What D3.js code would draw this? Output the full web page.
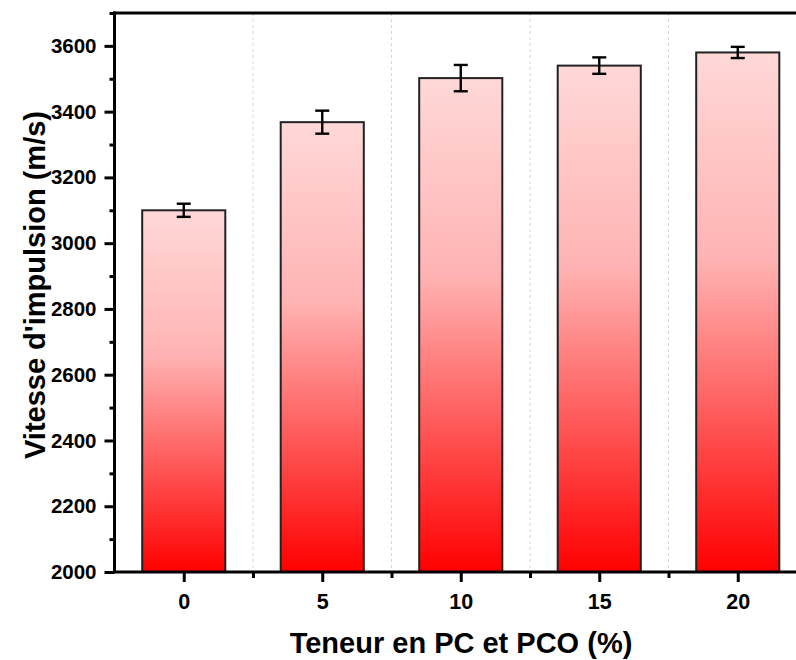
<!DOCTYPE html>
<html>
<head>
<meta charset="utf-8">
<script src="https://cdn.jsdelivr.net/npm/d3@7"></script>
<style>
  html, body { margin: 0; padding: 0; background: #fff; }
  svg { display: block; }
  text { font-family: "Liberation Sans", Arial, sans-serif; font-weight: bold; fill: #000; }
</style>
</head>
<body>
<div class="canvas"></div>
<script>
// data
const contents = [0, 5, 10, 15, 20];
const vitesse = [3100, 3368, 3502, 3540, 3580];
const errors = [20, 35, 40, 25, 17];
const yTicks = [2000, 2200, 2400, 2600, 2800, 3000, 3200, 3400, 3600];
const yMinorTicks = [2100, 2300, 2500, 2700, 2900, 3100, 3300, 3500, 3700];
const xMinorTicks = [2.5, 7.5, 12.5, 17.5];

const dims = {width: 796, height: 660};
const plot = {left: 114.5, right: 807, top: 13, bottom: 572};

const svg = d3.select(".canvas")
    .append("svg")
    .attr("width", dims.width)
    .attr("height", dims.height);

const x = d3.scaleLinear().domain([-2.5, 22.5]).range([plot.left, plot.right]);
const y = d3.scaleLinear().domain([2000, 3700]).range([plot.bottom, plot.top]);
const barW = x(3) - x(0);

// gradient: pale pink at the top of each bar, red at its base
const grad = svg.append("defs").append("linearGradient")
    .attr("id", "barGrad")
    .attr("x1", 0).attr("y1", 0).attr("x2", 0).attr("y2", 1);
grad.append("stop").attr("offset", "0%").attr("stop-color", "#ffd8d8");
grad.append("stop").attr("offset", "40%").attr("stop-color", "#ffb3b3");
grad.append("stop").attr("offset", "100%").attr("stop-color", "#ff0000");

// dashed vertical grid
svg.append("g").selectAll("line")
    .data(xMinorTicks)
    .join("line")
    .attr("x1", d => x(d)).attr("x2", d => x(d))
    .attr("y1", plot.top).attr("y2", plot.bottom)
    .attr("stroke", "#d8d8d8")
    .attr("stroke-width", 1)
    .attr("stroke-dasharray", "3,3");

// bars
const data = contents.map((c, i) => ({c, v: vitesse[i], e: errors[i]}));
svg.append("g").selectAll("rect")
    .data(data)
    .join("rect")
    .attr("x", d => x(d.c) - barW / 2)
    .attr("y", d => y(d.v))
    .attr("width", barW)
    .attr("height", d => y(2000) - y(d.v))
    .attr("fill", "url(#barGrad)")
    .attr("stroke", "#222")
    .attr("stroke-width", 2);

// error bars
const eb = svg.append("g").attr("stroke", "#000").attr("stroke-width", 2.4);
data.forEach(d => {
    const cx = x(d.c);
    eb.append("line").attr("x1", cx).attr("x2", cx).attr("y1", y(d.v + d.e)).attr("y2", y(d.v - d.e));
    eb.append("line").attr("x1", cx - 7).attr("x2", cx + 7).attr("y1", y(d.v + d.e)).attr("y2", y(d.v + d.e));
    eb.append("line").attr("x1", cx - 7).attr("x2", cx + 7).attr("y1", y(d.v - d.e)).attr("y2", y(d.v - d.e));
});

// y axis
const yAxis = svg.append("g")
    .attr("transform", `translate(${plot.left},0)`)
    .call(d3.axisLeft(y).tickValues(yTicks).tickSize(10).tickPadding(8).tickFormat(d3.format("d")));
svg.append("g")
    .attr("transform", `translate(${plot.left},0)`)
    .call(d3.axisLeft(y).tickValues(yMinorTicks).tickSize(5).tickFormat(""))
    .call(g => g.select(".domain").remove());

// x axis
const xAxis = svg.append("g")
    .attr("transform", `translate(0,${plot.bottom})`)
    .call(d3.axisBottom(x).tickValues(contents).tickSize(10).tickPadding(12).tickFormat(d3.format("d")));
svg.append("g")
    .attr("transform", `translate(0,${plot.bottom})`)
    .call(d3.axisBottom(x).tickValues(xMinorTicks).tickSize(6).tickFormat(""))
    .call(g => g.select(".domain").remove());

svg.selectAll(".tick line").attr("stroke", "#000").attr("stroke-width", 3);
svg.selectAll(".domain").attr("stroke", "#000").attr("stroke-width", 3)
    .attr("d", null);
yAxis.select(".domain").attr("d", `M0,${plot.top - 1.5}V${plot.bottom}`);
xAxis.select(".domain").attr("d", `M${plot.left - 1.5},0H${plot.right}`);
svg.selectAll(".tick text").attr("font-family", null).attr("font-size", null);
yAxis.selectAll(".tick text").style("font-size", "20.5px");
xAxis.selectAll(".tick text").style("font-size", "21.5px");

// top frame line
svg.append("line")
    .attr("x1", plot.left - 1.5).attr("x2", plot.right)
    .attr("y1", plot.top).attr("y2", plot.bottom - plot.bottom + plot.top)
    .attr("stroke", "#000").attr("stroke-width", 3);

// titles
svg.append("text")
    .attr("x", 461).attr("y", 653)
    .attr("text-anchor", "middle")
    .style("font-size", "29px")
    .text("Teneur en PC et PCO (%)");

svg.append("text")
    .attr("transform", `translate(45,285) rotate(-90)`)
    .attr("text-anchor", "middle")
    .style("font-size", "29px")
    .text("Vitesse d'impulsion (m/s)");
</script>
</body>
</html>
